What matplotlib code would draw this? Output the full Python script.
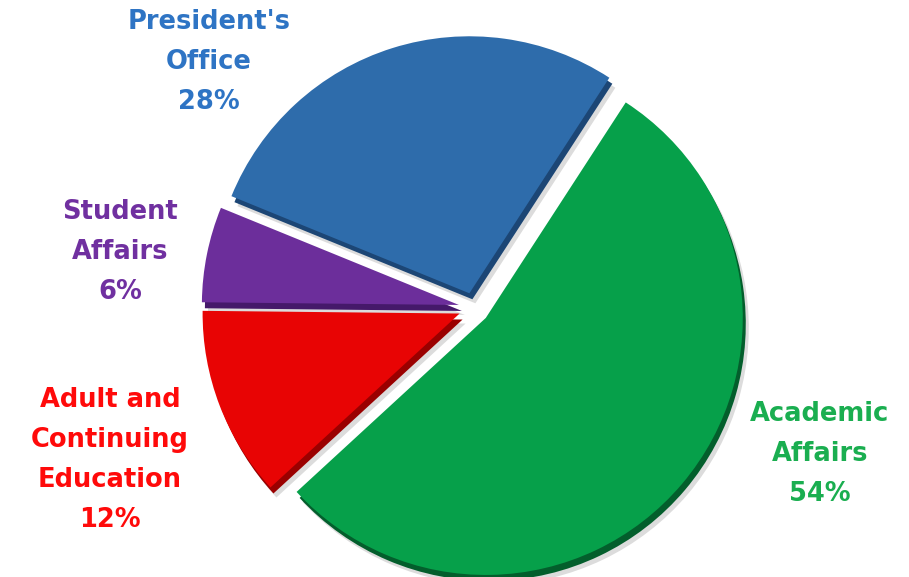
import matplotlib
matplotlib.use("Agg")
import matplotlib.pyplot as plt

# data
labels = ["Academic\nAffairs", "Adult and\nContinuing\nEducation", "Student\nAffairs", "President's\nOffice"]
shares = [54, 12, 6, 28]
colors = ["#06A04A", "#E80404", "#6C2E9B", "#2E6CAB"]
dark = ["#035E2C", "#9A0000", "#45196A", "#1C4675"]
text_colors = ["#1AAE50", "#FF0A0A", "#7030A0", "#2E74C4"]

fig = plt.figure(figsize=(9.09, 5.77), dpi=100)
ax = fig.add_axes([0, 0, 1, 1])

cx, cy, r = 474, 269, 257
# matplotlib explode is in data units when radius is not 1
explode = [0.06 * r] * 4

# soft shadow
ax.pie(shares, colors=["#dcdcdc"] * 4, startangle=57, counterclock=False,
       explode=explode, center=(cx + 6, cy - 10), radius=r, frame=True,
       wedgeprops=dict(linewidth=0))
# darker copy underneath gives the 3D side
ax.pie(shares, colors=dark, startangle=57, counterclock=False, explode=explode,
       center=(cx + 3, cy - 6), radius=r, frame=True,
       wedgeprops=dict(linewidth=0))
wedges, _ = ax.pie(shares, colors=colors, startangle=57, counterclock=False,
                   explode=explode, center=(cx, cy), radius=r, frame=True,
                   wedgeprops=dict(linewidth=0))
ax.set_xlim(0, 909)
ax.set_ylim(0, 577)
ax.set_aspect("equal")
ax.axis("off")

# labels
pos = [(820, 123), (110, 117), (120, 325), (209, 515)]
for (x, y), lab, s, c in zip(pos, labels, shares, text_colors):
    ax.text(x, y, f"{lab}\n{s}%", ha="center", va="center", color=c,
            fontsize=18.5, fontweight="bold", linespacing=1.7,
            family="DejaVu Sans")

plt.savefig("out.png", dpi=100)
